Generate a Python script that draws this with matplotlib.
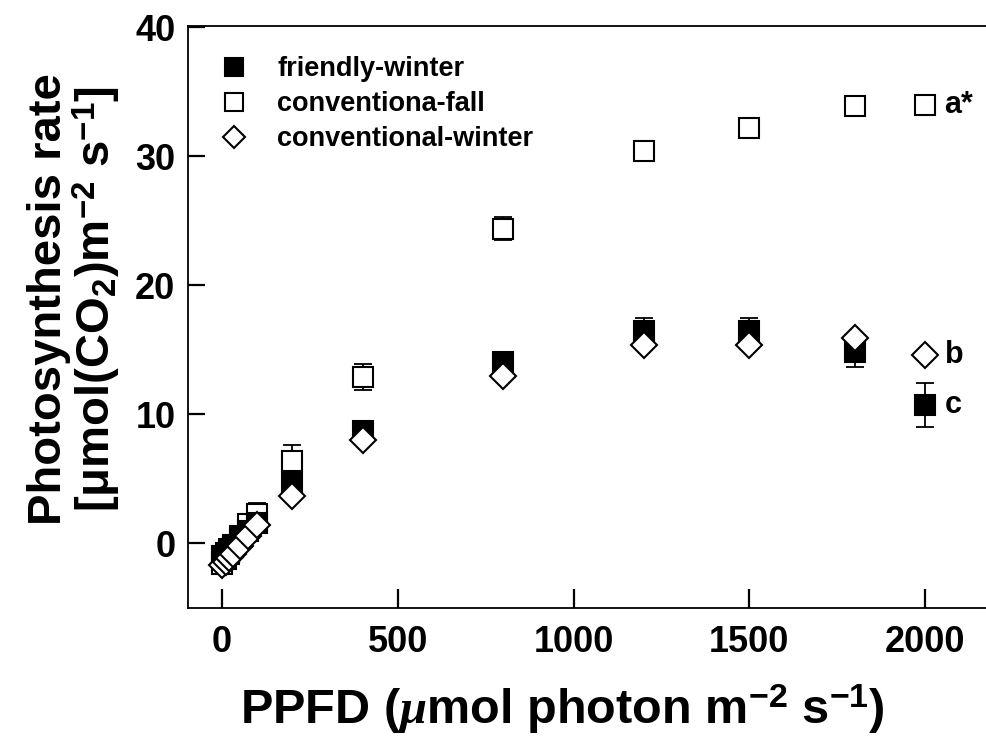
import matplotlib
matplotlib.use("Agg")
import numpy as np
import matplotlib.pyplot as plt

plt.rcParams['font.family'] = ['Liberation Sans', 'DejaVu Sans']
plt.rcParams['font.weight'] = 'bold'
plt.rcParams['mathtext.fontset'] = 'custom'
plt.rcParams['mathtext.rm'] = 'Liberation Sans:bold'
plt.rcParams['mathtext.bf'] = 'Liberation Sans:bold'
plt.rcParams['mathtext.it'] = 'Liberation Serif:italic'

# PPFD levels (umol photon m-2 s-1)
ppfd = [0, 10, 20, 30, 50, 75, 100, 200, 400, 800, 1200, 1500, 1800, 2000]

# friendly-winter
friendly_winter = [-1.0, -0.7, -0.4, -0.1, 0.4, 1.0, 1.6, 4.7, 8.7, 14.1, 16.5, 16.5, 14.8, 10.7]
friendly_winter_err = [0.2, 0.2, 0.2, 0.2, 0.2, 0.3, 0.3, 0.5, 0.4, 0.75, 1.0, 1.0, 1.1, 1.7]

# conventiona-fall
conv_fall = [-1.6, -1.2, -0.8, -0.3, 0.6, 1.5, 2.3, 6.4, 12.9, 24.4, 30.4, 32.2, 33.9, 34.0]
conv_fall_err = [0.2, 0.2, 0.3, 0.4, 0.5, 0.6, 0.8, 1.2, 1.0, 0.9, 0.2, 0.2, 0.2, 0.2]

# conventional-winter
conv_winter = [-1.7, -1.4, -1.1, -0.8, -0.2, 0.6, 1.4, 3.7, 8.0, 13.0, 15.35, 15.35, 15.9, 14.6]

# significance letters at 2000
letters = ['a*', 'b', 'c']
letter_y = [34.0, 14.6, 10.7]

fig = plt.figure(figsize=(9.86, 7.47), dpi=100)
ax = fig.add_axes([188 / 986, (747 - 608) / 747, 798 / 986, (608 - 26) / 747])

ebkw = dict(fmt='none', ecolor='black', elinewidth=1.3, capsize=6.5, capthick=1.3)

ax.errorbar(ppfd, conv_fall, yerr=conv_fall_err, zorder=2, **ebkw)
ax.plot(ppfd, conv_fall, ls='none', marker='s', ms=14, mfc='white', mec='black',
        mew=1.5, zorder=2.5, label='conventiona-fall')

ax.errorbar(ppfd, friendly_winter, yerr=friendly_winter_err, zorder=3, **ebkw)
ax.plot(ppfd, friendly_winter, ls='none', marker='s', ms=14, mfc='black', mec='black',
        mew=1.5, zorder=3.5, label='friendly-winter')

ax.plot(ppfd, conv_winter, ls='none', marker='D', ms=13, mfc='white', mec='black',
        mew=1.5, zorder=4, label='conventional-winter')

for lab, yv in zip(letters, letter_y):
    ax.text(2000 + 55, yv, lab, fontsize=22, fontweight='bold', va='center', ha='left')

handles, labels = ax.get_legend_handles_labels()
order = [1, 0, 2]
leg = ax.legend([handles[i] for i in order], [labels[i] for i in order],
                loc='upper left', bbox_to_anchor=(0.01, 0.99), frameon=False,
                fontsize=19.5, markerscale=0.9, handlelength=1.0, handletextpad=1.1,
                labelspacing=0.33)
for t in leg.get_texts():
    t.set_fontweight('bold')

ax.set_xlim(-97, 2173)
ax.set_ylim(-5, 40.1)
ax.set_xticks([0, 500, 1000, 1500, 2000])
ax.set_yticks([0, 10, 20, 30, 40])
ax.tick_params(axis='x', direction='in', length=14, width=1.6, pad=12, labelsize=26)
ax.tick_params(axis='y', direction='in', length=12, width=1.6, pad=9, labelsize=26)
for lbl in ax.get_xticklabels() + ax.get_yticklabels():
    lbl.set_fontweight('bold')

ax.spines['right'].set_visible(False)
for s in ['left', 'top', 'bottom']:
    ax.spines[s].set_linewidth(1.3)

ax.set_xlabel(r'PPFD ($\mathit{\mu}$mol photon m$^{\mathbf{-2}}$ s$^{\mathbf{-1}}$)',
              fontsize=35, fontweight='bold', va='center')
ax.xaxis.set_label_coords(0.469, -0.175)
ax.set_ylabel('Photosynthesis rate\n' + r'[μmol(CO$_{\mathbf{2}}$)m$^{\mathbf{-2}}$ s$^{\mathbf{-1}}$]',
              fontsize=34, fontweight='bold', linespacing=1.0, va='center')
ax.yaxis.set_label_coords(-0.1416, 0.53)

fig.savefig('out.png', dpi=100)
